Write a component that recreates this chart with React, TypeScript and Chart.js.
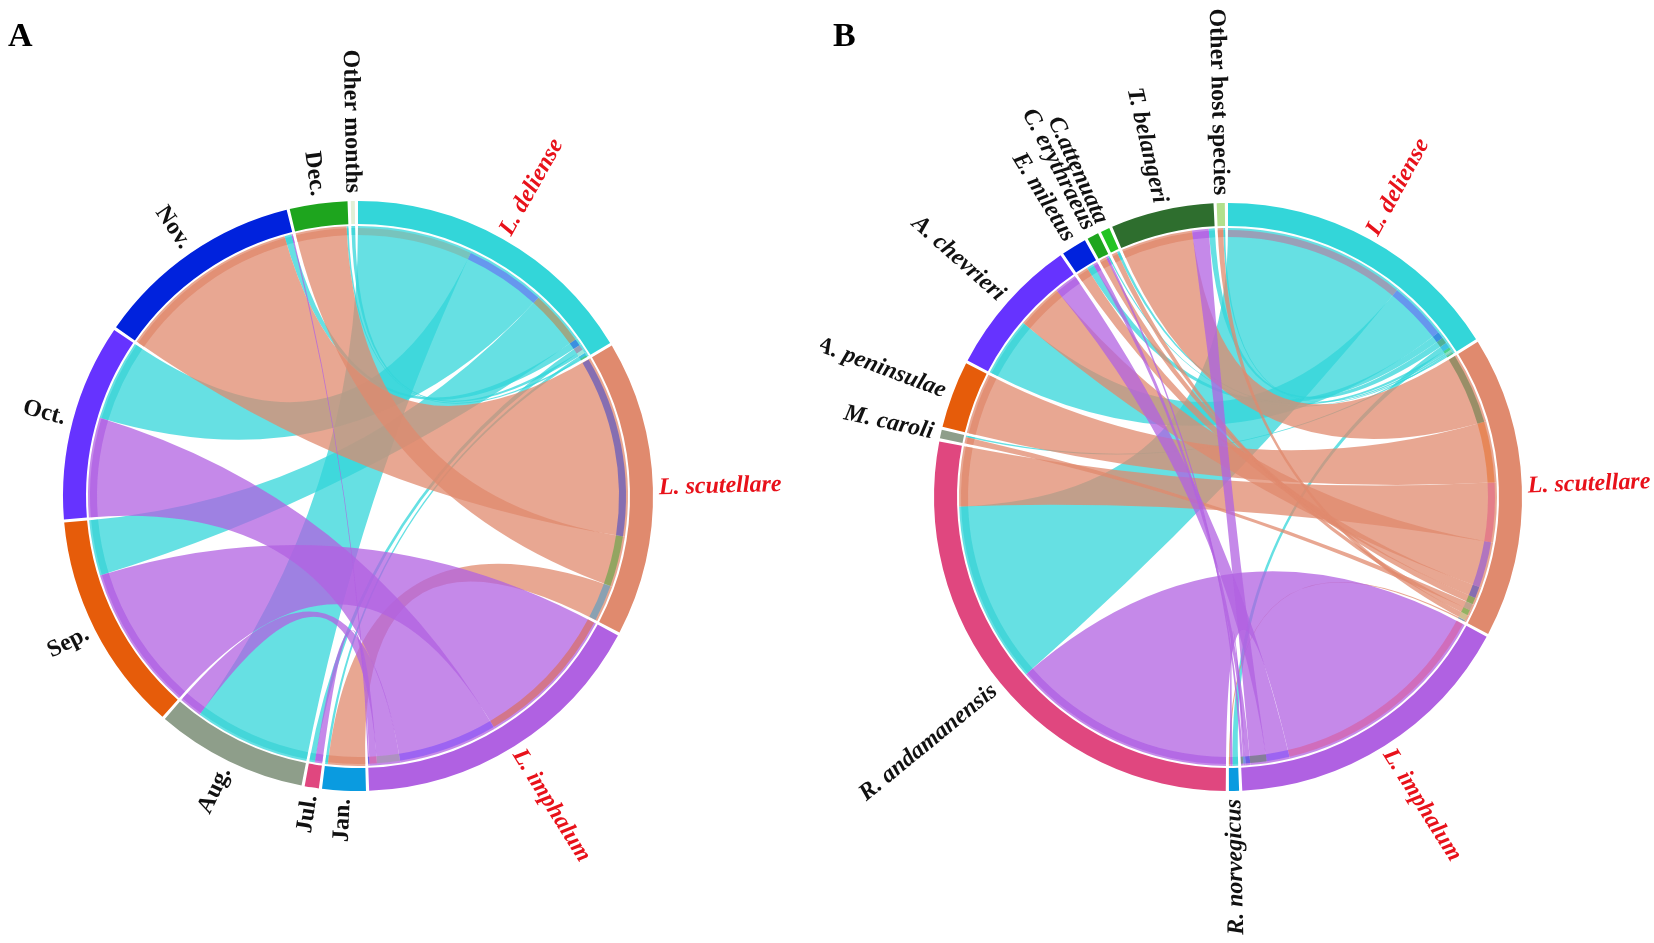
import React, { useEffect, useRef } from "react";
import { Chart, registerables } from "chart.js";

Chart.register(...registerables);

// ---------------- shared: chigger species (targets) ----------------
const speciesLabels = ["L. deliense", "L. scutellare", "L. imphalum"];

// ---------------- Panel A: months (sources) ----------------
const monthLabels = ["Jan.", "Jul.", "Aug.", "Sep.", "Oct.", "Nov.", "Dec.", "Other months"];
// values per month: [L. deliense, L. scutellare, L. imphalum]
const janValues = [0.6, 8, 0];
const julValues = [1.2, 0, 1.6];
const augValues = [25, 0, 5];
const sepValues = [12, 0, 31.5];
const octValues = [17.5, 0, 21.5];
const novValues = [1.5, 39.5, 0.3];
const decValues = [0.4, 11, 0];
const otherMonthValues = [0.8, 0, 0];

// ---------------- Panel B: host species (sources) ----------------
const hostLabels = [
  "R. norvegicus",
  "R. andamanensis",
  "M. caroli",
  "A. peninsulae",
  "A. chevrieri",
  "E. miletus",
  "C. erythraeus",
  "C.attenuata",
  "T. belangeri",
  "Other host species",
];
// values per host: [L. deliense, L. scutellare, L. imphalum]
const norvegicusValues = [1.2, 0.3, 0.5];
const andamanensisValues = [39.5, 13, 48.6];
const caroliValues = [0.3, 1.4, 0];
const peninsulaeValues = [0, 13.3, 0];
const chevrieriValues = [12.8, 10, 5];
const miletusValues = [1.5, 2.5, 1];
const erythraeusValues = [0.3, 1.5, 0.5];
const attenuataValues = [0.6, 1.2, 0];
const belangeriValues = [1.3, 15.6, 3.6];
const otherHostValues = [0.4, 1.2, 0];

// ---------------- styles ----------------
const speciesRingColors = ["#33D6D9", "#E08A6E", "#B061E2"];
const speciesChordColors = [
  "rgba(51,214,217,0.75)",
  "rgba(224,138,110,0.75)",
  "rgba(177,97,226,0.75)",
];
const speciesStripColors = [
  "rgba(40,205,210,0.55)",
  "rgba(222,128,98,0.6)",
  "rgba(165,80,225,0.55)",
];
const monthColors = ["#0A9BE0", "#E0477F", "#8E9E8A", "#E65C0A", "#6633FF", "#0022DD", "#1EA51E", "#E2EFD6"];
const hostColors = [
  "#0A9BE0",
  "#E0477F",
  "#8E9E8A",
  "#E65C0A",
  "#6633FF",
  "#0022DD",
  "#1EA51E",
  "#22C422",
  "#2E6E2E",
  "#B2E08C",
];

function hexToRgba(hex: string, a: number) {
  const h = hex.replace("#", "");
  const r = parseInt(h.slice(0, 2), 16);
  const g = parseInt(h.slice(2, 4), 16);
  const b = parseInt(h.slice(4, 6), 16);
  return `rgba(${r},${g},${b},${a})`;
}

type Panel = {
  letter: string;
  letterX: number;
  groupLabels: string[];
  groupValues: number[][];
  groupColors: string[];
  groupItalic: boolean[];
  radius: number;
  padding: { left: number; right: number; top: number; bottom: number };
  width: number;
};

const GAP_DEG = 0.62;
const RING = 23;

function makePlugin(p: Panel) {
  const nS = speciesLabels.length;
  const nG = p.groupLabels.length;
  return {
    id: "chord" + p.letter,
    afterDatasetsDraw(chart: any) {
      const ctx = chart.ctx as CanvasRenderingContext2D;
      const arcs = chart.getDatasetMeta(0).data as any[];
      if (!arcs.length) return;
      const cx = arcs[0].x;
      const cy = arcs[0].y;
      const rIn = arcs[0].innerRadius;
      const ang = (k: number) => [arcs[2 * k].startAngle, arcs[2 * k].endAngle];
      const vals = p.groupValues;
      const src = vals.map((row) => row.map(() => [0, 0]));
      const tgt = vals.map((row) => row.map(() => [0, 0]));
      vals.forEach((row, i) => {
        const [s, e] = ang(nS + i);
        const tot = row.reduce((a, b) => a + b, 0);
        const order = row
          .map((_, j) => j)
          .filter((j) => row[j] > 0)
          .sort((a, b) => row[b] - row[a] || a - b);
        let cur = s;
        order.forEach((j) => {
          const w = ((e - s) * row[j]) / tot;
          src[i][j] = [cur, cur + w];
          cur += w;
        });
      });
      for (let j = 0; j < nS; j++) {
        const [s, e] = ang(j);
        const col = vals.map((r) => r[j]);
        const tot = col.reduce((a, b) => a + b, 0);
        const order = col
          .map((_, i) => i)
          .filter((i) => col[i] > 0)
          .sort((a, b) => col[b] - col[a] || a - b);
        let cur = s;
        order.forEach((i) => {
          const w = ((e - s) * col[i]) / tot;
          tgt[i][j] = [cur, cur + w];
          cur += w;
        });
      }
      const rc = rIn - 2;
      ctx.save();
      for (let j = 0; j < nS; j++) {
        for (let i = 0; i < nG; i++) {
          if (!(vals[i][j] > 0)) continue;
          const [a1, a2] = src[i][j];
          const [b1, b2] = tgt[i][j];
          ctx.beginPath();
          ctx.arc(cx, cy, rc, a1, a2);
          ctx.quadraticCurveTo(cx, cy, cx + rc * Math.cos(b1), cy + rc * Math.sin(b1));
          ctx.arc(cx, cy, rc, b1, b2);
          ctx.quadraticCurveTo(cx, cy, cx + rc * Math.cos(a1), cy + rc * Math.sin(a1));
          ctx.closePath();
          ctx.fillStyle = speciesChordColors[j];
          ctx.fill();
        }
      }
      const band = (a1: number, a2: number, color: string) => {
        ctx.beginPath();
        ctx.arc(cx, cy, rIn - 4, a1, a2);
        ctx.arc(cx, cy, rIn - 11, a2, a1, true);
        ctx.closePath();
        ctx.fillStyle = color;
        ctx.fill();
      };
      for (let j = 0; j < nS; j++) {
        for (let i = 0; i < nG; i++) {
          if (!(vals[i][j] > 0)) continue;
          band(src[i][j][0], src[i][j][1], speciesStripColors[j]);
          band(tgt[i][j][0], tgt[i][j][1], hexToRgba(p.groupColors[i], 0.42));
        }
      }
      ctx.restore();
    },
    afterDraw(chart: any) {
      const ctx = chart.ctx as CanvasRenderingContext2D;
      const arcs = chart.getDatasetMeta(0).data as any[];
      if (!arcs.length) return;
      const cx = arcs[0].x;
      const cy = arcs[0].y;
      const rOut = arcs[0].outerRadius;
      const all = [...speciesLabels, ...p.groupLabels];
      ctx.save();
      ctx.textBaseline = "middle";
      all.forEach((label, k) => {
        const a = arcs[2 * k];
        const m = (a.startAngle + a.endAngle) / 2;
        let deg = ((m + Math.PI / 2) * 180) / Math.PI;
        deg = ((deg % 360) + 360) % 360;
        const isSpecies = k < nS;
        const italic = isSpecies || p.groupItalic[k - nS];
        ctx.font = `${italic ? "italic " : ""}bold 24px "Liberation Serif", "Times New Roman", serif`;
        ctx.fillStyle = isSpecies ? "#E8111A" : "#111111";
        ctx.save();
        ctx.translate(cx, cy);
        if (deg < 176) {
          ctx.rotate(m);
          ctx.textAlign = "left";
          ctx.fillText(label, rOut + 6, 0);
        } else {
          ctx.rotate(m + Math.PI);
          ctx.textAlign = "right";
          ctx.fillText(label, -(rOut + 8), 0);
        }
        ctx.restore();
      });
      ctx.font = 'bold 34px "Liberation Serif", "Times New Roman", serif';
      ctx.fillStyle = "#000";
      ctx.textAlign = "left";
      ctx.textBaseline = "alphabetic";
      ctx.fillText(p.letter, p.letterX, 46);
      ctx.restore();
    },
  };
}

function buildChart(canvas: HTMLCanvasElement, p: Panel) {
  const speciesTotals = speciesLabels.map((_, j) => p.groupValues.reduce((a, r) => a + r[j], 0));
  const groupTotals = p.groupValues.map((r) => r.reduce((a, b) => a + b, 0));
  const totals = [...speciesTotals, ...groupTotals];
  const colors = [...speciesRingColors, ...p.groupColors];
  const names = [...speciesLabels, ...p.groupLabels];
  const sum = totals.reduce((a, b) => a + b, 0);
  const n = totals.length;
  const gapVal = ((GAP_DEG / 360) * sum) / (1 - (n * GAP_DEG) / 360);
  const data: number[] = [];
  const bg: string[] = [];
  const labels: string[] = [];
  totals.forEach((t, k) => {
    data.push(t, gapVal);
    bg.push(colors[k], "rgba(0,0,0,0)");
    labels.push(names[k], "");
  });
  const cutoutPct = (((p.radius - RING) / p.radius) * 100).toFixed(3) + "%";
  return new Chart(canvas, {
    type: "doughnut",
    data: {
      labels,
      datasets: [
        {
          data,
          backgroundColor: bg,
          borderWidth: 0,
          hoverOffset: 0,
        },
      ],
    },
    options: {
      animation: false,
      responsive: false,
      events: [],
      radius: p.radius,
      cutout: cutoutPct,
      layout: { padding: p.padding },
      plugins: {
        legend: { display: false },
        tooltip: { enabled: false },
      },
    } as any,
    plugins: [makePlugin(p) as any],
  });
}

const panelA: Panel = {
  letter: "A",
  letterX: 8,
  groupLabels: monthLabels,
  groupValues: [janValues, julValues, augValues, sepValues, octValues, novValues, decValues, otherMonthValues],
  groupColors: monthColors,
  groupItalic: monthLabels.map(() => false),
  radius: 295,
  padding: { left: 0, right: 104, top: 49, bottom: 0 },
  width: 820,
};

const panelB: Panel = {
  letter: "B",
  letterX: 13,
  groupLabels: hostLabels,
  groupValues: [
    norvegicusValues,
    andamanensisValues,
    caroliValues,
    peninsulaeValues,
    chevrieriValues,
    miletusValues,
    erythraeusValues,
    attenuataValues,
    belangeriValues,
    otherHostValues,
  ],
  groupColors: hostColors,
  groupItalic: hostLabels.map((l) => l !== "Other host species"),
  radius: 294,
  padding: { left: 50, right: 68, top: 51, bottom: 0 },
  width: 834,
};

function ChordPanel({ panel, left }: { panel: Panel; left: number }) {
  const ref = useRef<HTMLCanvasElement | null>(null);
  useEffect(() => {
    if (!ref.current) return;
    const chart = buildChart(ref.current, panel);
    return () => chart.destroy();
  }, [panel]);
  return (
    <canvas
      ref={ref}
      width={panel.width}
      height={943}
      style={{ position: "absolute", left, top: 0, width: panel.width, height: 943 }}
    />
  );
}

export default function App() {
  return (
    <div
      style={{
        position: "absolute",
        left: 0,
        top: 0,
        width: 1654,
        height: 943,
        background: "#ffffff",
        overflow: "hidden",
      }}
    >
      <ChordPanel panel={panelA} left={0} />
      <ChordPanel panel={panelB} left={820} />
    </div>
  );
}
